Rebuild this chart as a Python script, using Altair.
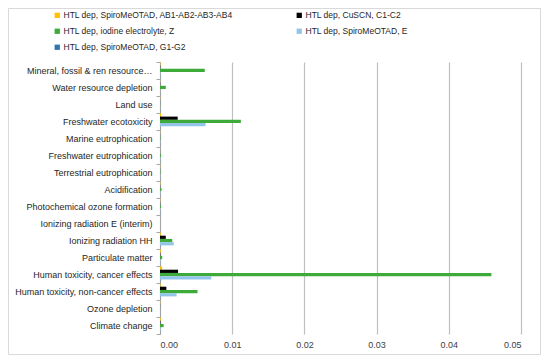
import altair as alt
import pandas as pd

categories = [
    "Mineral, fossil & ren resource\u2026",
    "Water resource depletion",
    "Land use",
    "Freshwater ecotoxicity",
    "Marine eutrophication",
    "Freshwater eutrophication",
    "Terrestrial eutrophication",
    "Acidification",
    "Photochemical ozone formation",
    "Ionizing radiation E (interim)",
    "Ionizing radiation HH",
    "Particulate matter",
    "Human toxicity, cancer effects",
    "Human toxicity, non-cancer effects",
    "Ozone depletion",
    "Climate change",
]

series_names = [
    "HTL dep, SpiroMeOTAD, AB1-AB2-AB3-AB4",
    "HTL dep, CuSCN, C1-C2",
    "HTL dep, iodine electrolyte, Z",
    "HTL dep, SpiroMeOTAD, E",
    "HTL dep, SpiroMeOTAD, G1-G2",
]
series_colors = ["#FFC000", "#000000", "#3DAA3A", "#92C5E8", "#2E75B6"]

# legend order (column-major layout that reads row by row like the reference)
legend_order = [0, 2, 4, 1, 3]
legend_names = [series_names[i] for i in legend_order]
legend_colors = [series_colors[i] for i in legend_order]

ab = [0.00005, 0.00001, 0.00002, 0.00015, 0.00002, 0.00001, 0.00002, 0.00004,
      0.00003, 0.0, 0.0001, 0.0001, 0.0003, 0.00008, 0.00003, 0.0001]
cuscn = [0.00003, 0.00002, 0.00001, 0.00245, 0.00001, 0.00001, 0.00001, 0.00002,
         0.00002, 0.0, 0.0008, 0.00004, 0.0025, 0.00088, 0.00001, 0.00005]
iodine = [0.0062, 0.0008, 0.00003, 0.0112, 0.00005, 0.00012, 0.00006, 0.0002,
          0.00012, 0.0, 0.0017, 0.0003, 0.0459, 0.0052, 0.00002, 0.0005]
spiro_e = [0.00003, 0.00002, 0.00001, 0.0063, 0.00002, 0.00003, 0.00002, 0.00005,
           0.00004, 0.0, 0.0019, 0.00005, 0.0071, 0.0023, 0.00001, 0.00008]
spiro_g = [0.00001, 0.00001, 0.00001, 0.00002, 0.00001, 0.00001, 0.00001, 0.00001,
           0.00001, 0.0, 0.00002, 0.00001, 0.00003, 0.00002, 0.00001, 0.00001]

rows = []
for name, vals in zip(series_names, [ab, cuscn, iodine, spiro_e, spiro_g]):
    for c, v in zip(categories, vals):
        rows.append({"category": c, "series": name, "value": v})
df = pd.DataFrame(rows)

font = "Liberation Sans"
W, H = 361, 272
PL, PT, PR, PB = 152, 54, 20, 21

bars = alt.Chart(df).mark_bar().encode(
    x=alt.X("value:Q",
            scale=alt.Scale(domain=[0, 0.05], nice=False),
            axis=alt.Axis(title=None, format=".2f", values=[0, 0.01, 0.02, 0.03, 0.04, 0.05],
                          domain=False, ticks=False, grid=True, gridColor="#BFBFBF",
                          gridWidth=1.2, labelFontSize=9, labelColor="#404040",
                          labelFont=font, labelPadding=6)),
    y=alt.Y("category:N", sort=categories,
            scale=alt.Scale(paddingInner=0.05, paddingOuter=0.02),
            axis=alt.Axis(title=None, domainColor="#A6A6A6", tickColor="#A6A6A6",
                          tickBand="extent", tickSize=4, labelFontSize=9,
                          labelColor="#262626", labelFont=font, labelPadding=4,
                          labelLimit=200)),
    yOffset=alt.YOffset("series:N", sort=series_names),
    color=alt.Color("series:N", sort=legend_names,
                    scale=alt.Scale(domain=legend_names, range=legend_colors),
                    legend=alt.Legend(title=None, orient="none", legendX=-107, legendY=-51,
                                      columns=2, columnPadding=62, rowPadding=7,
                                      symbolType="square", symbolSize=28,
                                      symbolStrokeWidth=0, labelFontSize=8.5,
                                      labelFont=font, labelColor="#262626",
                                      labelOffset=2, labelLimit=300)),
)

frame = alt.Chart(pd.DataFrame({"a": [0]})).mark_rect(
    fillOpacity=0, stroke="#D9D9D9", strokeWidth=1
).encode(
    x=alt.value(-PL + 0.5), x2=alt.value(W + PR - 0.5),
    y=alt.value(-PT + 0.5), y2=alt.value(H + PB - 0.5),
)

chart = alt.layer(bars, frame).properties(
    width=W, height=H,
    autosize=alt.AutoSizeParams(type="none"),
    padding={"left": PL, "top": PT, "right": PR, "bottom": PB},
).configure_view(stroke=None)

chart.save("out.html", embed_options={"renderer": "svg", "actions": False})
